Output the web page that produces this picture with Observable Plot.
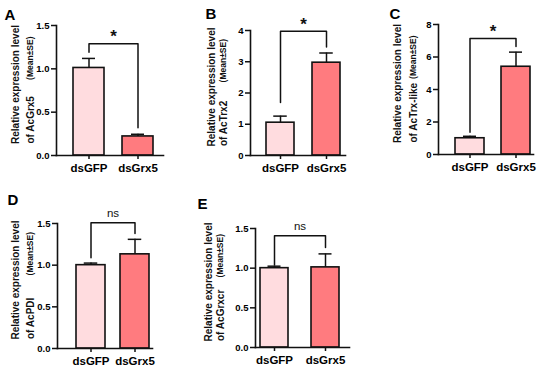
<!DOCTYPE html>
<html><head><meta charset="utf-8">
<script src="https://cdn.jsdelivr.net/npm/d3@7"></script>
<script src="https://cdn.jsdelivr.net/npm/@observablehq/plot@0.6"></script>
<style>
html,body{margin:0;padding:0;background:#fff;}
#chart{position:relative;width:550px;height:368px;overflow:hidden;background:#fff;}
#chart svg{position:absolute;left:0;top:0;}
</style></head><body><div id="chart"></div>
<script>
// ---- data ----
const categories = ["dsGFP", "dsGrx5"];
const barColors = ["#FFDCDF", "#FF7B7F"];
const panelLetters = ["A", "B", "C", "D", "E"];
const genes = ["AcGrx5", "AcTrx2", "AcTrx-like", "AcPDI", "AcGrxcr"];
const titleLine1 = "Relative expression level";
const titleUnit = "(Mean±SE)";
const meanValues = [[1.01, 0.22], [1.05, 2.97], [1.0, 5.4], [1.0, 1.13], [1.0, 1.01]];
const seValues = [[0.11, 0.025], [0.21, 0.31], [0.12, 0.9], [0.025, 0.18], [0.025, 0.17]];
const yMax = [1.5, 4, 8, 1.5, 1.5];
const yTicks = [[0, 0.5, 1, 1.5], [0, 1, 2, 3, 4], [0, 2, 4, 6, 8], [0, 0.5, 1, 1.5], [0, 0.5, 1, 1.5]];
const yTickLabels = [["0.0", "0.5", "1.0", "1.5"], ["0", "1", "2", "3", "4"], ["0", "2", "4", "6", "8"], ["0.0", "0.5", "1.0", "1.5"], ["0.0", "0.5", "1.0", "1.5"]];
const sigLabels = ["*", "*", "*", "ns", "ns"];
const bracketTop = [1.29, 3.98, 7.14, 1.51, 1.41];
const bracketLegs = [[1.19, 0.32], [1.7, 3.47], [1.37, 6.65], [1.09, 1.38], [1.04, 1.26]];

// ---- layout (pixels) ----
const layout = [
  {L: 56, R: 163, T: 25, B: 155, b1: [73, 104], b2: [122, 153], t1: 15, t2: 30, lx: 4, ly: 9},
  {L: 250, R: 345, T: 30, B: 155, b1: [266, 294], b2: [312, 339], t1: 211, t2: 223, lx: 205, ly: 8},
  {L: 438, R: 533, T: 24, B: 154, b1: [455, 484], b2: [501, 530], t1: 397, t2: 413, lx: 389, ly: 8},
  {L: 57, R: 152, T: 223, B: 348, b1: [76, 105], b2: [120, 148], t1: 15, t2: 30, lx: 7, ly: 194},
  {L: 255, R: 349, T: 228, B: 347, b1: [260, 288], b2: [311, 339], t1: 208, t2: 220, lx: 197, ly: 198}
];
const FONT = "'Liberation Sans', Arial, Helvetica, sans-serif";

function panel(i) {
  const lay = layout[i];
  const rows = categories.map((c, j) => ({cat: c, mean: meanValues[i][j], hi: meanValues[i][j] + seValues[i][j]}));
  const bracket = [
    {cat: categories[0], v: bracketLegs[i][0]},
    {cat: categories[0], v: bracketTop[i]},
    {cat: categories[1], v: bracketTop[i]},
    {cat: categories[1], v: bracketLegs[i][1]}
  ];
  const T = lay.R - lay.L;
  const w = ((lay.b1[1] - lay.b1[0]) + (lay.b2[1] - lay.b2[0])) / 2;
  const step = lay.b2[0] - lay.b1[0];
  const pi = 1 - w / step;
  const po = (T / step - 2 + pi) / 2;
  const align = Math.max(0, Math.min(1, (lay.b1[0] - lay.L) / (T - step * (2 - pi))));
  const capInset = Math.max(0, (w - 13) / 2);
  const star = sigLabels[i] === "*";
  return Plot.plot({
    width: 550, height: 368,
    marginLeft: lay.L, marginRight: 550 - lay.R, marginTop: lay.T, marginBottom: 368 - lay.B,
    style: {background: "none", fontFamily: FONT, overflow: "visible", color: "#000"},
    x: {domain: categories, paddingInner: pi, paddingOuter: po, align},
    y: {domain: [0, yMax[i]]},
    color: {domain: categories, range: barColors},
    marks: [
      Plot.barY(rows, {x: "cat", y: "mean", fill: "cat", stroke: "#111", strokeWidth: 1.6}),
      Plot.ruleX(rows, {x: "cat", y1: "mean", y2: "hi", stroke: "#111", strokeWidth: 1.5}),
      Plot.tickY(rows, {x: "cat", y: "hi", insetLeft: capInset, insetRight: capInset, stroke: "#111", strokeWidth: 1.5}),
      Plot.line(bracket, {x: "cat", y: "v", stroke: "#111", strokeWidth: 1.5}),
      Plot.text([sigLabels[i]], {x: () => categories[0], y: () => bracketTop[i], text: d => d,
        dx: step / 2, dy: star ? -7 : -9.5, lineAnchor: "middle",
        fontSize: star ? 17 : 11.5, fontWeight: star ? "bold" : "normal", fill: "#111"}),
      Plot.frame({anchor: "left", stroke: "#111", strokeWidth: 1.6}),
      Plot.frame({anchor: "bottom", stroke: "#111", strokeWidth: 1.6}),
      Plot.axisY({ticks: yTicks[i], tickFormat: d => yTickLabels[i][yTicks[i].indexOf(d)],
        tickSize: 5, tickPadding: 2, fontSize: 9.5, fontWeight: "bold", label: null, strokeWidth: 1.5, stroke: "#111"}),
      Plot.axisX({tickSize: 4, tickPadding: 4, fontSize: 11.5, fontWeight: "bold", label: null, strokeWidth: 1.5, stroke: "#111"}),
      Plot.text([panelLetters[i]], {frameAnchor: "top-left", text: d => d, textAnchor: "start", lineAnchor: "top",
        dx: lay.lx - lay.L, dy: lay.ly - lay.T, fontSize: 15, fontWeight: "bold", fill: "#000"}),
      Plot.text([titleLine1], {frameAnchor: "left", text: d => d, rotate: -90, textAnchor: "middle", lineAnchor: "middle",
        dx: lay.t1 - lay.L, dy: -6, fontSize: 10, fontWeight: "bold", fill: "#111"}),
      Plot.text(["of " + genes[i]], {frameAnchor: "left", text: d => d, rotate: -90, textAnchor: "start", lineAnchor: "middle",
        dx: lay.t2 - lay.L, dy: 53, fontSize: 10, fontWeight: "bold", fill: "#111"}),
      Plot.text([titleUnit], {frameAnchor: "left", text: d => d, rotate: -90, textAnchor: "end", lineAnchor: "middle",
        dx: lay.t2 - lay.L, dy: -54, fontSize: 8.5, fontWeight: "bold", fill: "#111"})
    ]
  });
}

const chart = document.getElementById("chart");
for (let i = 0; i < 5; i++) chart.appendChild(panel(i));
</script>
</body></html>
